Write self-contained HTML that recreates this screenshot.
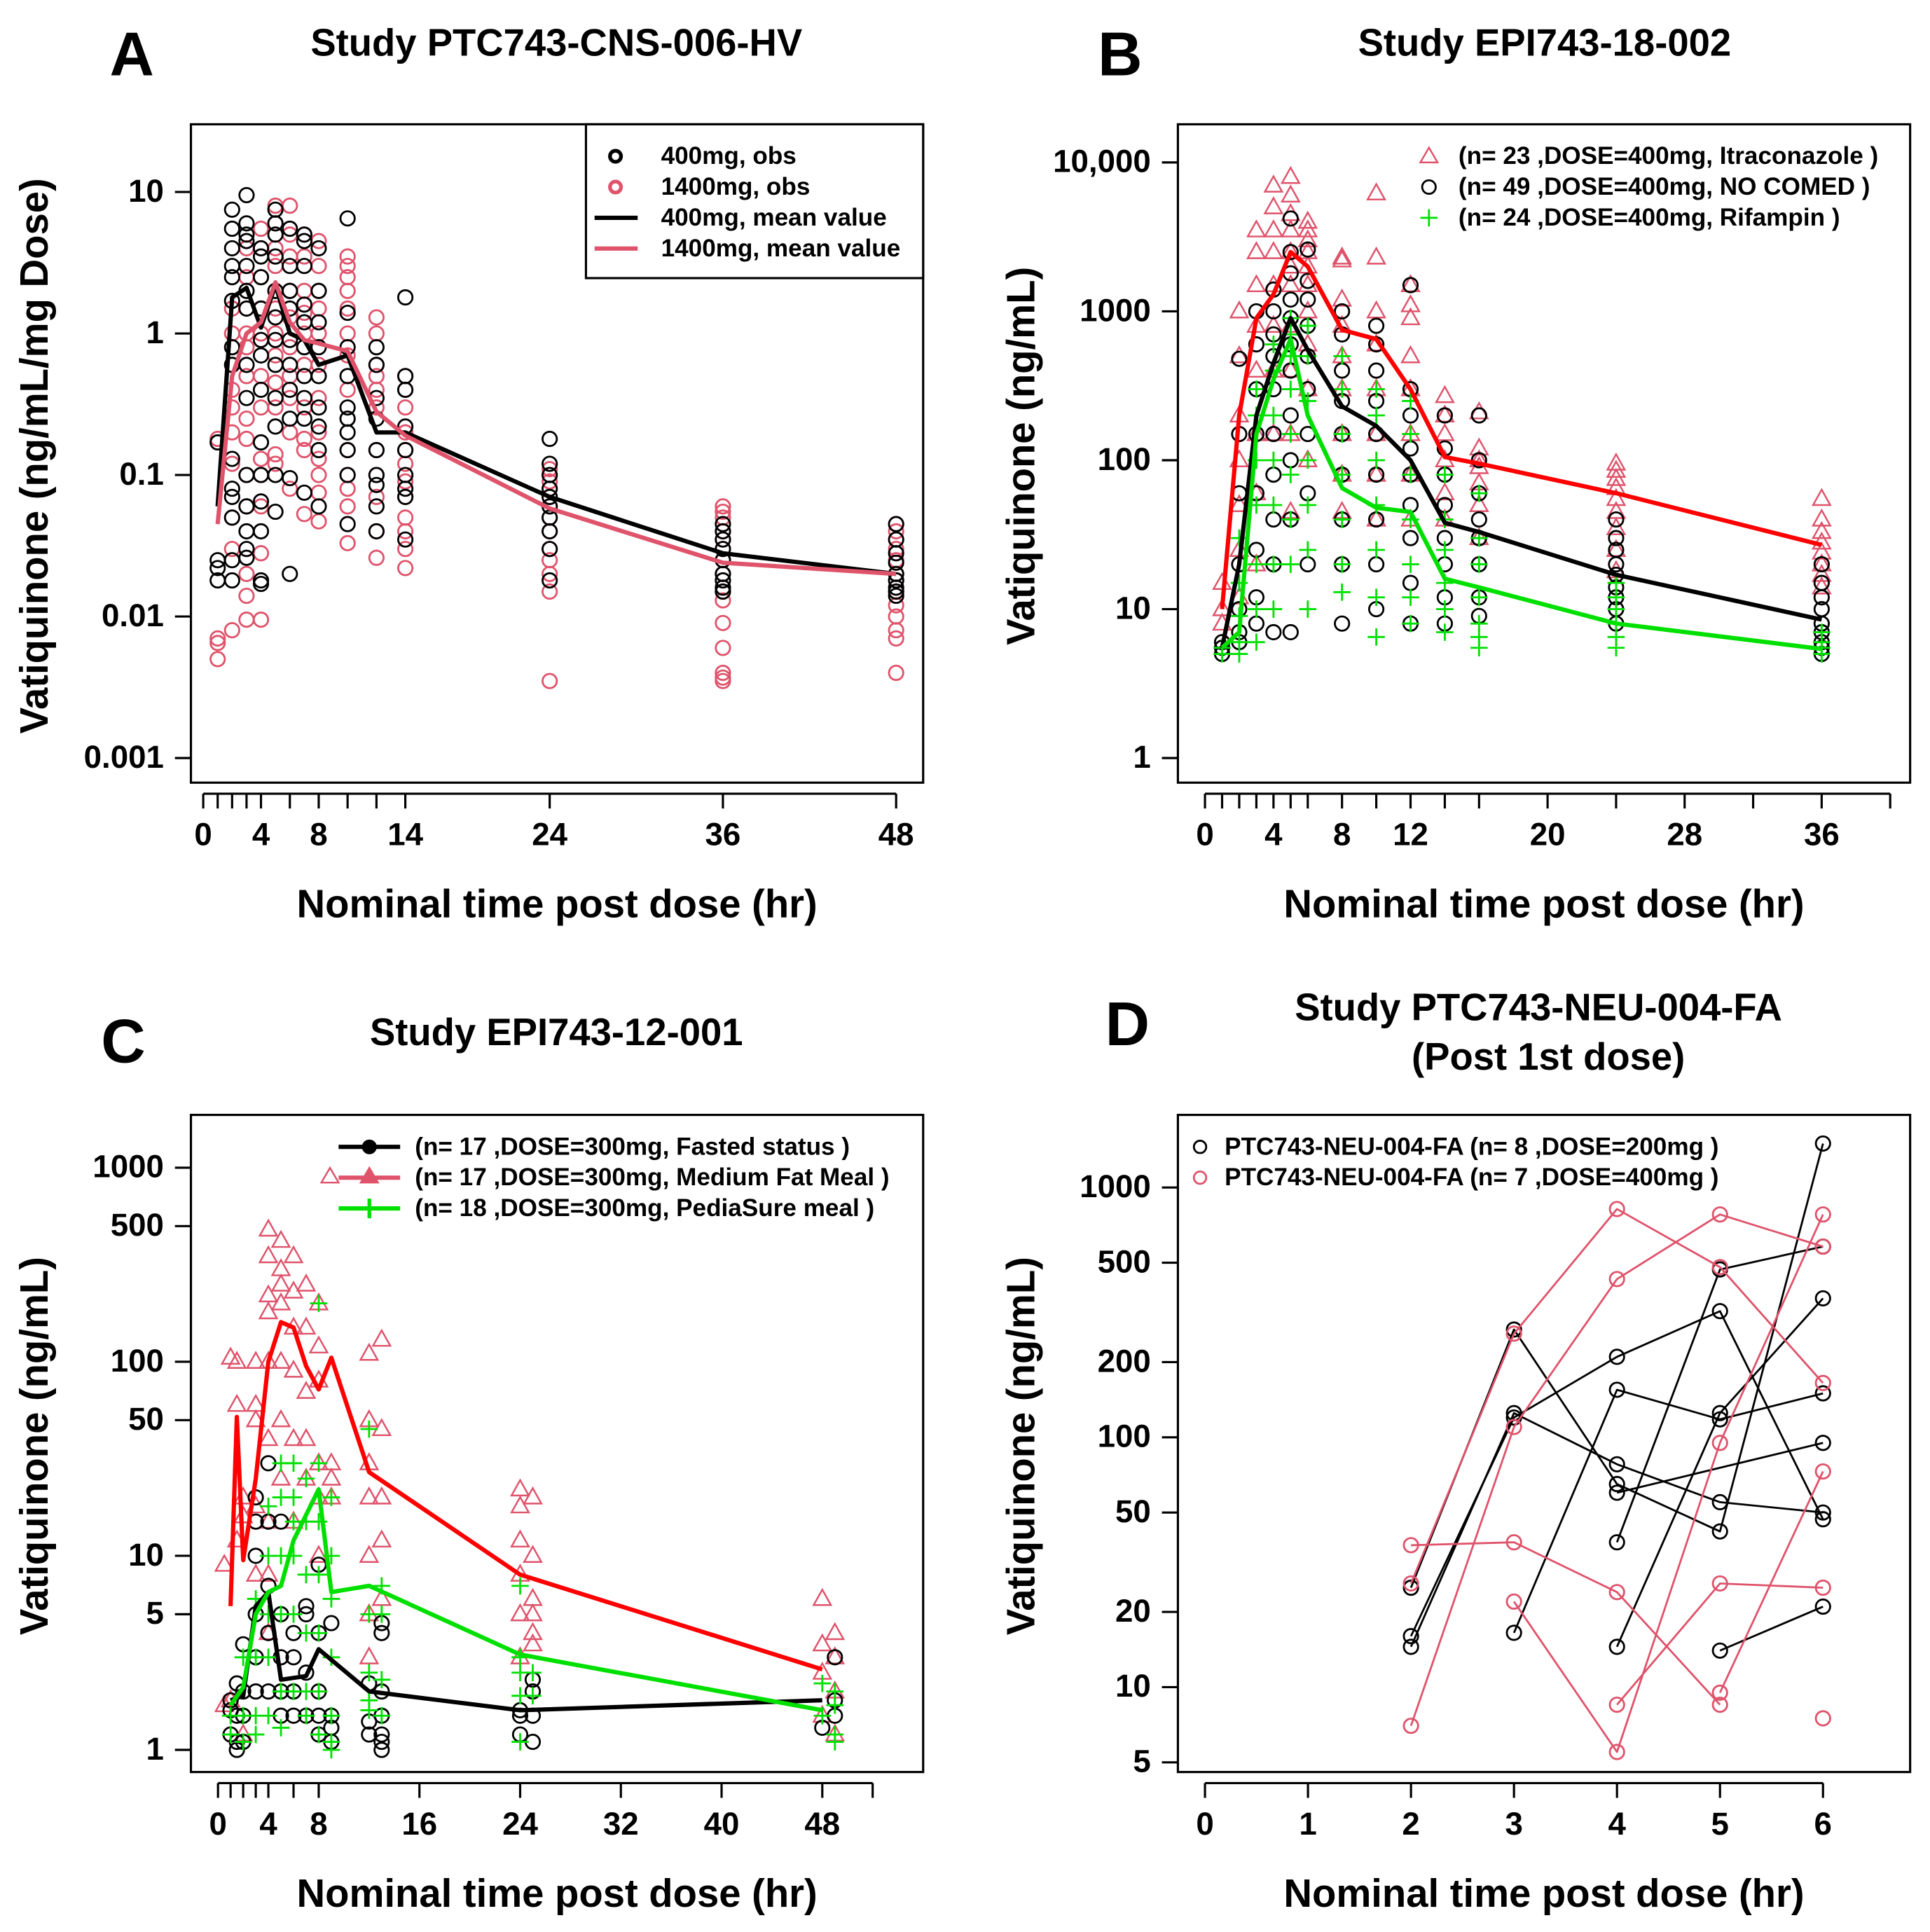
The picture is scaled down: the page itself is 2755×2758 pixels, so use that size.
<!DOCTYPE html>
<html><head><meta charset="utf-8"><style>
html,body{margin:0;padding:0;background:#fff}
svg{display:block}
text{font-family:"Liberation Sans",Arial,sans-serif;font-weight:bold;fill:#000}
</style></head><body>
<svg id="fig" width="2755" height="2758" viewBox="0 0 1568 1570" xmlns="http://www.w3.org/2000/svg">
<rect x="0" y="0" width="1568" height="1570" fill="#fff"/>
</svg>
<script>
// ---------- Panel A data ----------
const aTimes=[1,2,3,4,5,6,7,8,10,12,14,24,36,48];
const aBlackObs=[[0.018,0.022,0.025,0.17],[7.5,5.5,4,3,2.5,1.7,0.8,0.6,0.13,0.08,0.07,0.05,0.025,0.018],[9.5,6,5,4.5,3,2,1.5,0.6,0.35,0.1,0.06,0.04,0.03,0.026],[4,3.5,2.5,1.5,0.9,0.7,0.4,0.17,0.1,0.065,0.04,0.018,0.017],[7.5,6,5,3.5,2,1.3,0.9,0.6,0.35,0.22,0.1,0.055],[5.5,3,2,1.5,0.9,0.6,0.4,0.25,0.095,0.02],[5,4.5,3,1.6,1.2,0.8,0.5,0.35,0.25,0.075],[4,2,1.2,0.8,0.5,0.3,0.22,0.15,0.06],[6.5,1.4,0.8,0.5,0.3,0.25,0.2,0.15,0.1,0.045],[0.8,0.6,0.35,0.25,0.15,0.1,0.085,0.06,0.04],[1.8,0.5,0.4,0.22,0.15,0.1,0.08,0.07,0.035],[0.18,0.12,0.1,0.08,0.07,0.06,0.05,0.04,0.03,0.018],[0.045,0.04,0.035,0.03,0.025,0.02,0.018,0.016,0.015],[0.045,0.035,0.028,0.024,0.02,0.018,0.016,0.015,0.014]];
const aRedObs=[[0.18,0.007,0.0065,0.005],[1.5,1,0.6,0.4,0.3,0.2,0.12,0.05,0.03,0.008],[4,2.5,1.5,1,0.8,0.5,0.25,0.18,0.1,0.06,0.02,0.014,0.0095],[5.5,4,2.5,1.5,1,0.5,0.3,0.13,0.1,0.06,0.028,0.0095],[8,6,4,3,2,1.5,1,0.7,0.45,0.3,0.14,0.12],[8,5,3.5,2,1.3,0.8,0.5,0.35,0.2,0.08],[5,3.5,2,1.4,1,0.6,0.3,0.18,0.15,0.053],[4.5,3,2,1.5,1,0.6,0.35,0.2,0.13,0.1,0.075,0.047],[3.5,3,2.5,2,1.5,1,0.7,0.4,0.25,0.15,0.1,0.08,0.06,0.033],[1.3,1,0.6,0.5,0.4,0.3,0.15,0.1,0.07,0.04,0.026],[0.5,0.4,0.3,0.2,0.15,0.12,0.09,0.07,0.05,0.04,0.03,0.022],[0.11,0.1,0.09,0.08,0.07,0.06,0.05,0.04,0.03,0.025,0.02,0.015,0.0035],[0.06,0.055,0.05,0.04,0.035,0.03,0.025,0.02,0.015,0.013,0.009,0.006,0.004,0.0037,0.0035],[0.045,0.04,0.035,0.03,0.025,0.02,0.018,0.015,0.012,0.01,0.008,0.007,0.004]];
const aBlackMean=[0.06,1.8,2.1,1.1,2.2,1.0,0.9,0.6,0.7,0.2,0.2,0.07,0.028,0.02];
const aRedMean=[0.045,0.5,1.0,1.2,2.3,1.2,0.9,0.85,0.75,0.28,0.19,0.058,0.024,0.02];
const aXTicks=[0,1,2,3,4,6,8,10,12,14,24,36,48];
const aXLabels=[0,4,8,14,24,36,48];
const aYTicks=[10,1,0.1,0.01,0.001];
const aYLabels=["10","1","0.1","0.01","0.001"];
// ---------- Panel B data ----------
const bTimes=[1,2,3,4,5,6,8,10,12,14,16,24,36];
const bRedObs=[[15,10,8],[1000,500,200,100,50,25,12],[3500,2500,1500,800,400,150,60,20],[7000,5000,3500,2500,1500,800,400,150],[8000,6000,4500,3500,2500,2000,1500,800,400,150,45],[4000,3500,3000,2500,2000,1500,1000,600,300,100],[2300,2200,1200,800,500,300,150,80,45],[6200,2300,1000,600,300,150,80,40],[1500,1100,900,500,300,150,80,40],[270,200,150,100,60,40],[210,120,100,90,70,50,30],[95,85,75,65,55,45,35,25,18],[55,40,33,28,24,20,17,14]];
const bBlackObs=[[5.5,6,5],[480,150,60,20,10,7,6],[1000,600,300,150,60,25,12,8],[1400,1000,700,500,300,150,80,40,20,7],[4200,2500,1800,1200,900,600,400,200,100,40,7],[2600,1600,1200,800,500,300,150,60,20],[1000,700,400,250,150,80,40,20,8],[800,600,400,250,150,80,40,20,10],[1500,300,200,120,80,50,30,15,8],[200,120,80,50,30,20,12,8],[200,100,60,40,30,20,12,9],[40,30,25,20,17,14,12,10,8],[20,15,12,10,8,7,6,5.5,5]];
const bGreenObs=[[5.5,5],[30,15,9,6,5],[300,200,100,50,20,10,6],[600,400,200,100,50,20,10],[900,700,500,300,150,80,40,20],[800,500,250,100,50,25,10],[500,300,150,80,40,20,13],[300,200,100,50,25,12,6.5],[250,150,80,40,20,12,8],[80,40,25,15,10,7],[60,30,20,12,8,6.5,5.5],[15,12,10,8,6.5,5.5],[7,6,5.5,5]];
const bRedMean=[10,200,900,1300,2500,2000,750,650,300,105,95,60,27];
const bBlackMean=[5.5,20,200,450,900,550,230,170,100,38,33,17,8.5];
const bGreenMean=[5.5,7,150,350,650,200,65,48,45,16,14,8,5.4];
const bXTicks=[0,1,2,3,4,5,6,8,10,12,14,16,20,24,28,32,36,40];
const bXLabels=[0,4,8,12,20,28,36];
const bYTicks=[10000,1000,100,10,1];
const bYLabels=["10,000","1000","100","10","1"];
// ---------- Panel C data ----------
const cRedT=[0.5,1,1.5,2,3,4,5,6,7,8,9,12,13,24,25,48,49];
const cRedObs=[[9,1.7],[105,1.8],[100,60,12],[20,16,1.2],[100,60,50,18,8],[480,350,220,180,100,40,15,8,4],[420,300,250,200,100,50,25],[350,230,150,90,40,15],[250,150,70,40,25],[200,120,80,30,20,10],[30,25,20],[110,50,30,20,10,5,3],[130,45,20,12,6],[22,18,12,8,5,3],[20,10,6,5,4,3.5],[6,3.5,2.5,1.5],[4,3,2,1.2]];
const cBlackT=[1,1.5,2,3,4,5,6,7,8,9,12,13,24,25,48,49];
const cBlackObs=[[1.8,1.6,1.2],[2.2,1.5,1.0,1.1],[3.5,2,1.5,1.1],[20,15,10,5,3,2],[30,15,7,4,2],[15,5,3,2,1.5],[4,3,2,1.5],[5.5,5,2.5,1.5],[9,4,2,1.5,1.2],[4.5,1.5,1.3,1.1],[2.2,1.4,1.2],[4.5,4,2,1.5,1.2,1.1,1],[1.6,1.5,1.2],[2.3,2,1.5,1.1],[1.3],[3,1.8,1.5]];
const cGreenT=[1,2,3,4,5,6,7,8,9,12,13,24,25,48,49];
const cGreenObs=[[1.5,1.2],[3,1.5,1.1],[6,3,1.5,1.2],[18,10,5,3,1.5],[30,20,10,5,2,1.3],[30,20,15,10,5,2],[25,15,8,4,2,1.5],[200,30,15,8,4,2,1.2],[20,10,6,3,1.5,1.1,1],[45,5,2.5,1.8,1.6],[7,5,2.3,1.5],[7,3,2.5,1.9,1.1],[2.5,1.9],[2.2,1.5],[2,1.7,1.2,1.1]];
const cRedMeanT=[1,1.5,2,3,4,5,6,7,8,9,12,24,48];
const cRedMean=[5.5,52,9.5,25,100,160,150,95,72,105,27,8,2.6];
const cBlackMeanT=[1,2,3,4,5,7,8,12,24,48];
const cBlackMean=[1.8,1.9,5.5,6.5,2.3,2.4,3.3,2.0,1.6,1.8];
const cGreenMeanT=[1,2,3,4,5,6,8,9,12,24,48];
const cGreenMean=[1.7,2.1,5,6.5,7,12,22,6.5,7,3.1,1.6];
const cXTicks=[0,1,2,3,4,6,8,16,24,32,40,48,52];
const cXLabels=[0,4,8,16,24,32,40,48];
const cYTicks=[1000,500,100,50,10,5,1];
const cYLabels=["1000","500","100","50","10","5","1"];
// ---------- Panel D data ----------
const dTimes=[2,3,4,5,6];
const dBlackSubj=[[25,270,65,42,1500],[16,120,210,320,47],[14.5,125,78,55,50],[null,16.5,155,118,150],[null,null,38,470,580],[null,null,14.5,125,360],[null,null,null,14,21],[null,null,60,null,95]];
const dRedSubj=[[26,260,820,480,165],[37,38,24,8.5,null],[7,110,430,780,580],[null,22,5.5,95,780],[null,null,8.5,26,25],[null,null,null,9.5,73],[null,null,null,null,7.5]];
const dXTicks=[0,1,2,3,4,5,6];
const dYTicks=[1000,500,200,100,50,20,10,5];
const dYLabels=["1000","500","200","100","50","20","10","5"];

const PINK="#DF536B", RED="#FF0000", GREEN="#00E000";
const svg=document.getElementById('fig');
const NS="http://www.w3.org/2000/svg";
function mk(tag,attrs,parent){const e=document.createElementNS(NS,tag);for(const k in attrs)e.setAttribute(k,attrs[k]);(parent||svg).appendChild(e);return e;}
function txt(x,y,s,size,anchor,parent,rot){const e=mk('text',{x:x,y:y,'font-size':size,'text-anchor':anchor||'middle','dominant-baseline':'middle'},parent);if(rot)e.setAttribute('transform','rotate(-90 '+x+' '+y+')');e.textContent=s;return e;}
function logY(y0,ppd,base){return v=>y0-(Math.log10(v)-base)*ppd;}
function linX(x0,ppu){return t=>x0+t*ppu;}

function circle(g,x,y,col,name){const e=mk('circle',{cx:x,cy:y,r:5.8,fill:'none',stroke:col,'stroke-width':1.6},g);

return e;}
function tri(g,x,y,col,name){const e=mk('path',{d:`M${x} ${y-7.5}L${x+7} ${y+5}L${x-7} ${y+5}Z`,fill:'none',stroke:col,'stroke-width':1.4},g);

return e;}
function plus(g,x,y,col,name){const e=mk('path',{d:`M${x-7} ${y}H${x+7}M${x} ${y-7}V${y+7}`,fill:'none',stroke:col,'stroke-width':1.6},g);

return e;}
function line(g,ts,vs,X,Y,col,w,name){let d='';ts.forEach((t,i)=>{if(vs[i]==null)return;d+=(d?'L':'M')+X(t).toFixed(1)+' '+Y(vs[i]).toFixed(1);});
const e=mk('path',{d:d,fill:'none',stroke:col,'stroke-width':w,'stroke-linejoin':'round'},g);

return e;}

function frame(p){
 const g=mk('g',{});
 
 
 const box=mk('rect',{x:p.bx,y:p.by,width:p.bw,height:p.bh,fill:'none',stroke:'#000','stroke-width':1.8},g);
 
 
 const ay=p.by+p.bh+9;
 const xa=mk('g',{},g);
 
 
 mk('line',{x1:p.X(p.xt[0]),x2:p.X(p.xt[p.xt.length-1]),y1:ay,y2:ay,stroke:'#000','stroke-width':1.8},xa);
 p.xt.forEach(t=>mk('line',{x1:p.X(t),x2:p.X(t),y1:ay,y2:ay+12,stroke:'#000','stroke-width':1.8},xa));
 p.xl.forEach(t=>{const e=txt(p.X(t),p.by+p.bh+44,String(t),26,'middle',xa);
  
  });
 const ya=mk('g',{},g);
 
 
 p.yt.forEach((v,i)=>{const y=p.Y(v);mk('line',{x1:p.bx-13,x2:p.bx,y1:y,y2:y,stroke:'#000','stroke-width':1.8},ya);
  const e=txt(p.bx-22,y+1,p.yl[i],26,'end',ya);
  
  });
 const xt=txt(p.bx+p.bw/2,p.by+p.bh+101,'Nominal time post dose (hr)',32,'middle',g);
 
 
 const yt=txt(p.ylx,p.by+p.bh/2+2,p.ytitle,32,'middle',g,true);
 
 
 return g;
}

// Panel A
(function(){
 const X=linX(165,11.73),Y=logY(616,115,-3);
 const g=frame({id:'panel-a',bx:155,by:101,bw:595,bh:535,X,Y,xt:aXTicks,xl:aXLabels,yt:aYTicks,yl:aYLabels,ylx:30,ytitle:'Vatiquinone (ng/mL/mg Dose)'});
 aTimes.forEach((t,i)=>{aRedObs[i].forEach(v=>circle(g,X(t),Y(v),PINK,'obs-1400mg-point'));});
 aTimes.forEach((t,i)=>{aBlackObs[i].forEach(v=>circle(g,X(t),Y(v),'#000','obs-400mg-point'));});
 line(g,aTimes,aBlackMean,X,Y,'#000',3.5,'mean-400mg-line');
 line(g,aTimes,aRedMean,X,Y,PINK,3.5,'mean-1400mg-line');
})();
// Panel B
(function(){
 const X=linX(979,13.92),Y=logY(616,121,0);
 const g=frame({id:'panel-b',bx:957,by:101,bw:595,bh:535,X,Y,xt:bXTicks,xl:bXLabels,yt:bYTicks,yl:bYLabels,ylx:832,ytitle:'Vatiquinone (ng/mL)'});
 bTimes.forEach((t,i)=>{bRedObs[i].forEach(v=>tri(g,X(t),Y(v),PINK,'itraconazole-point'));});
 bTimes.forEach((t,i)=>{bBlackObs[i].forEach(v=>circle(g,X(t),Y(v),'#000','no-comed-point'));});
 bTimes.forEach((t,i)=>{bGreenObs[i].forEach(v=>plus(g,X(t),Y(v),GREEN,'rifampin-point'));});
 line(g,bTimes,bBlackMean,X,Y,'#000',3.5,'no-comed-mean-line');
 line(g,bTimes,bRedMean,X,Y,RED,3.5,'itraconazole-mean-line');
 line(g,bTimes,bGreenMean,X,Y,GREEN,3.5,'rifampin-mean-line');
})();
// Panel C
(function(){
 const X=linX(177,10.23),Y=logY(1422,157.7,0);
 const g=frame({id:'panel-c',bx:155,by:906,bw:595,bh:534,X,Y,xt:cXTicks,xl:cXLabels,yt:cYTicks,yl:cYLabels,ylx:30,ytitle:'Vatiquinone (ng/mL)'});
 cRedT.forEach((t,i)=>{cRedObs[i].forEach(v=>tri(g,X(t),Y(v),PINK,'medium-fat-point'));});
 cBlackT.forEach((t,i)=>{cBlackObs[i].forEach(v=>circle(g,X(t),Y(v),'#000','fasted-point'));});
 cGreenT.forEach((t,i)=>{cGreenObs[i].forEach(v=>plus(g,X(t),Y(v),GREEN,'pediasure-point'));});
 line(g,cBlackMeanT,cBlackMean,X,Y,'#000',3.5,'fasted-mean-line');
 line(g,cRedMeanT,cRedMean,X,Y,RED,3.5,'medium-fat-mean-line');
 line(g,cGreenMeanT,cGreenMean,X,Y,GREEN,3.5,'pediasure-mean-line');
})();
// Panel D
(function(){
 const X=linX(979,83.7),Y=logY(1371,203,1);
 const g=frame({id:'panel-d',bx:957,by:906,bw:595,bh:534,X,Y,xt:dXTicks,xl:dXTicks,yt:dYTicks,yl:dYLabels,ylx:832,ytitle:'Vatiquinone (ng/mL)'});
 dBlackSubj.forEach(s=>{line(g,dTimes,s,X,Y,'#000',1.6,'subject-200mg-line');s.forEach((v,i)=>{if(v!=null)circle(g,X(dTimes[i]),Y(v),'#000','subject-200mg-point');});});
 dRedSubj.forEach(s=>{line(g,dTimes,s,X,Y,PINK,1.6,'subject-400mg-line');s.forEach((v,i)=>{if(v!=null)circle(g,X(dTimes[i]),Y(v),PINK,'subject-400mg-point');});});
})();
</script>
<script>
(function(){
const svg=document.getElementById('fig');const NS="http://www.w3.org/2000/svg";
function mk(tag,a,p){const e=document.createElementNS(NS,tag);for(const k in a)e.setAttribute(k,a[k]);(p||svg).appendChild(e);return e;}
function t(x,y,s,size,anchor,name){const e=mk('text',{x:x,y:y,'font-size':size,'text-anchor':anchor,'dominant-baseline':'middle'});e.textContent=s;

return e;}
t(107,48,'A',50,'middle','panel-letter-a');
t(910,48,'B',50,'middle','panel-letter-b');
t(100,850,'C',50,'middle','panel-letter-c');
t(916,836,'D',50,'middle','panel-letter-d');
t(452,37,'Study PTC743-CNS-006-HV',31,'middle','panel-a-title');
t(1255,37,'Study EPI743-18-002',31,'middle','panel-b-title');
t(452,841,'Study EPI743-12-001',31,'middle','panel-c-title');
t(1250,821,'Study PTC743-NEU-004-FA',31,'middle','panel-d-title');
t(1258,861,'(Post 1st dose)',31,'middle','panel-d-subtitle');
const PINK="#DF536B",RED="#FF0000",GREEN="#00E000";
const lb=mk('rect',{x:476,y:101,width:274,height:125,fill:'#fff',stroke:'#000','stroke-width':1.8});


mk('circle',{cx:500,cy:127,r:4.5,fill:'none',stroke:'#000','stroke-width':3});
mk('circle',{cx:500,cy:152,r:4.5,fill:'none',stroke:PINK,'stroke-width':3});
mk('line',{x1:483,x2:518,y1:177,y2:177,stroke:'#000','stroke-width':3.5});
mk('line',{x1:483,x2:518,y1:202,y2:202,stroke:PINK,'stroke-width':3.5});
t(537,128,'400mg, obs',20,'start','legend-a-400-obs');
t(537,153,'1400mg, obs',20,'start','legend-a-1400-obs');
t(537,178,'400mg, mean value',20,'start','legend-a-400-mean');
t(537,203,'1400mg, mean value',20,'start','legend-a-1400-mean');
mk('path',{d:'M1161 120L1168 132L1154 132Z',fill:'none',stroke:PINK,'stroke-width':1.4});
mk('circle',{cx:1161,cy:152,r:5.5,fill:'none',stroke:'#000','stroke-width':1.6});
mk('path',{d:'M1154 177H1168M1161 170V184',stroke:GREEN,'stroke-width':1.6});
t(1185,128,'(n= 23 ,DOSE=400mg, Itraconazole )',20,'start','legend-b-itraconazole');
t(1185,153,'(n= 49 ,DOSE=400mg, NO COMED )',20,'start','legend-b-no-comed');
t(1185,178,'(n= 24 ,DOSE=400mg, Rifampin )',20,'start','legend-b-rifampin');
mk('line',{x1:275,x2:325,y1:932,y2:932,stroke:'#000','stroke-width':3.5});
mk('circle',{cx:300,cy:932,r:5.5,fill:'#000',stroke:'#000'});
mk('line',{x1:275,x2:325,y1:957,y2:957,stroke:PINK,'stroke-width':3.5});
mk('path',{d:'M300 949L307 961L293 961Z',fill:PINK,stroke:PINK,'stroke-width':1.4});
mk('path',{d:'M261 961L268 949L275 961Z',fill:'none',stroke:PINK,'stroke-width':1.4});
mk('line',{x1:275,x2:325,y1:982,y2:982,stroke:GREEN,'stroke-width':3.5});
mk('path',{d:'M300 974V990',stroke:GREEN,'stroke-width':3});
t(337,933,'(n= 17 ,DOSE=300mg, Fasted status )',20,'start','legend-c-fasted');
t(337,958,'(n= 17 ,DOSE=300mg, Medium Fat Meal )',20,'start','legend-c-medium-fat');
t(337,983,'(n= 18 ,DOSE=300mg, PediaSure meal )',20,'start','legend-c-pediasure');
mk('circle',{cx:975,cy:932,r:5,fill:'none',stroke:'#000','stroke-width':1.6});
mk('circle',{cx:975,cy:957,r:5,fill:'none',stroke:PINK,'stroke-width':1.6});
t(995,933,'PTC743-NEU-004-FA (n= 8 ,DOSE=200mg )',20,'start','legend-d-200mg');
t(995,958,'PTC743-NEU-004-FA (n= 7 ,DOSE=400mg )',20,'start','legend-d-400mg');
})();
</script>
</body></html>
